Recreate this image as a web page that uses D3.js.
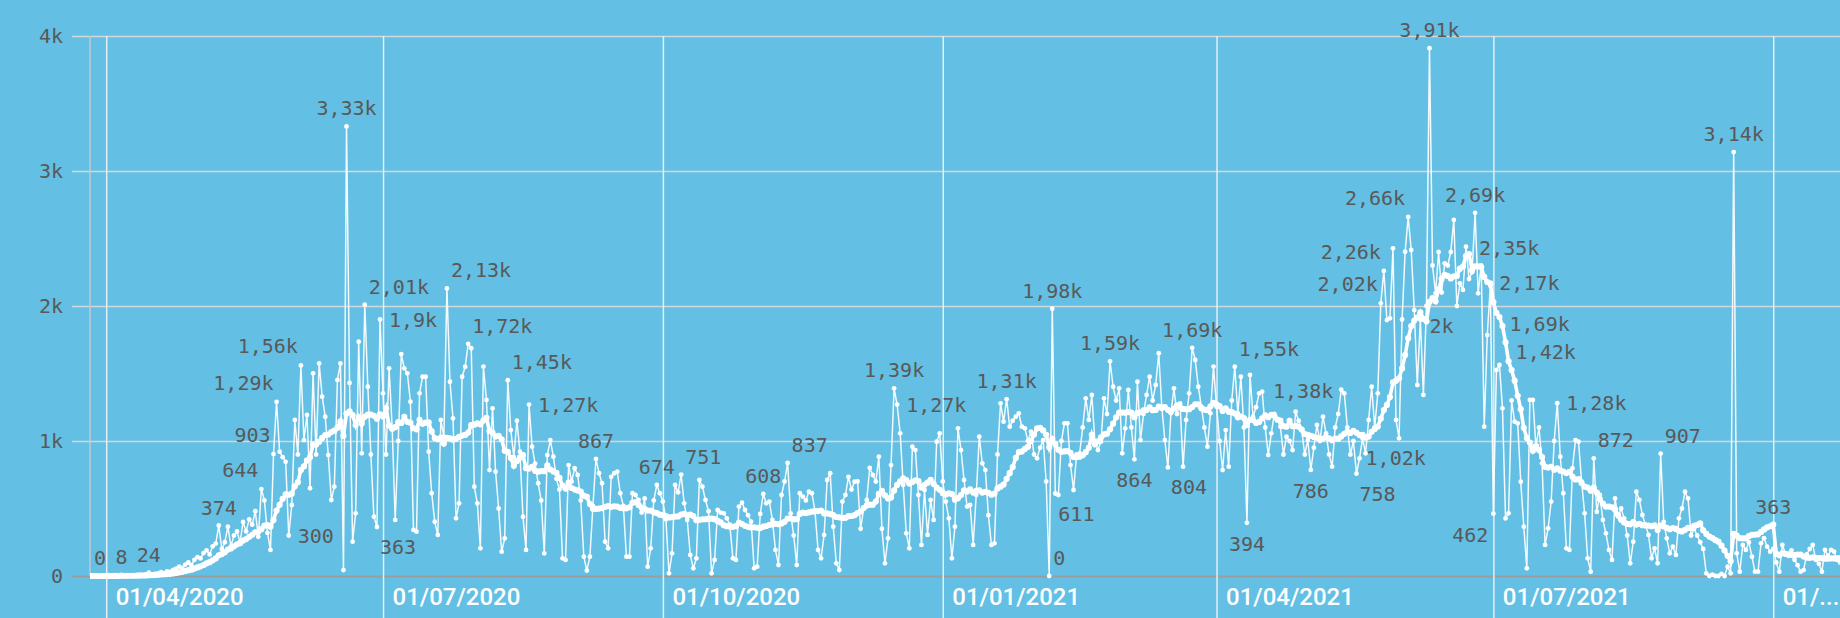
<!DOCTYPE html>
<html lang="es">
<head>
<meta charset="UTF-8">
<title>Casos diarios</title>
<style>
  html, body { margin: 0; padding: 0; background: #63bfe3; }
  svg { display: block; }
  .val { font-family: "DejaVu Sans Mono", monospace; font-size: 20px; fill: #595959; }
</style>
</head>
<body>
<div id="chart"></div>
<script src="https://cdn.jsdelivr.net/npm/d3@7/dist/d3.min.js"></script>
<script>
// first day of the series, values per day after that
const startDate = new Date(2020, 2, 27);
const daily = [
  // mar-apr 2020
  0,0,0,0,0,2,0,1,3,0, 8,2,4,5,3,6,10,8,12,24,
  10,15,20,28,22,35,30,45, 55,70,60,85,100,80,120,140,
  130,170,190,160,220,240,374,
  200,250,365,220,300,330,250,400,330,420,380,480,290,644,
  560,320,193,903,1290,921,880,846,300,
  526,1156,900,1560,1007,1193,650,1501,900,1575,1328,1180,896,563,662,1452,1575,44,3330,
  1430,254,464,1736,909,2010,1402,900,439,363,1900,1353,900,1538,1100,
  415,1000,1644,1538,1501,1291,341,328,1353,1476,1476,921,613,402,304,1156,1032,2130,
  1439,1168,427,538,1476,1550,1720,1687,662,538,205,1551,1304,785,1242,773,500,180,279,1450,
  1081,880,1150,921,439,193,1270,958,833,687,560,167,896,1007,884,720,640,131,119,822,700,798,
  // sep 2020
  748,560,143,40,143,520,867,761,687,254, 205,735,761,773,613,520,143,143,613,600,
  563,470,575,69,205,560,674,613,551,420,
  20,168,674,620,751,538,415,156,57,131, 711,661,563,480,20,119,489,470,464,427,
  380,131,119,514,543,489,450,402,57,69,
  460,608,538,551,415,193,81,600,700,837, 464,300,81,613,588,560,625,613,480,193,
  131,304,711,761,365,94,44,551,600,735,
  640,698,700,350,500,563,800,748,700,884, 350,94,279,822,1390,1270,1057,674,316,205,
  958,933,600,230,637,304,563,415,995,1057,
  // jan 2021
  700,551,427,131,365,1094,933,711,514,526, 230,600,1032,835,785,450,230,242,900,1279,
  1143,1310,1106,1150,1180,1205,1106,1094,1000,1069,
  900,872,950,1007,700,0,1980,611,600,1000, 1131,1131,822,637,900,909,1100,1316,1156,1341,
  1000,933,995,1316,1200,1590,1402,1300,1390,909,
  1094,1378,1100,864,1439,1007,1200,1341,1476,1300, 1415,1650,1254,1007,804,1205,1390,1200,1279,810,
  1156,1353,1690,1600,1402,1254,1100,958,1205,1551,
  1254,1000,785,1081,810,1300,1550,1205,1476,1100, 394,1489,1180,1250,1353,1365,1100,896,1057,1200,
  1156,1106,900,1032,1000,933,1217,1150,1081,900,
  // may 2021
  1007,786,950,1119,1000,1180,1057,900,810,1100, 1200,1380,1353,1100,900,1000,758,872,1020,909,
  1156,1402,1100,1353,2020,2260,1896,1909,2427,1156,
  1020,1900,2402,2660,2415,1970,1415,1900,1341,2000, 3910,2300,2094,2400,2100,2316,2300,2400,2637,2000,
  2168,2119,2439,2200,2250,2690,2094,2300,1106,1785,
  2150,462,1526,1563,1242,427,464,1300,1143,1131, 699,365,57,1304,1304,958,1100,835,230,353,
  551,1000,1280,884,613,205,193,798,1007,995,
  700,464,131,32,872,476,600,415,316,193, 119,575,440,500,427,300,94,254,624,563,
  452,380,304,131,205,94,907,400,279,168,
  217,156,427,500,624,575,300,350,300,250, 200,20,0,10,0,0,15,0,69,20,
  3140,168,32,230,193,250,143,32,32,242,
  280,217,180,200,100,32,230,168,150,190, 120,80,32,44,160,200,230,120,90,32,
  193,150,193,180,120,100,200
];
const yTicks = [0, 1000, 2000, 3000, 4000];

// which daily points carry a value label, and on which side of the point
const labelIdx  = [3,10,19,42,56,60,61,65,69,84,90,94,95,117,124,137,144,166,186,194,221,229,264,265,
                   301,315,316,317,335,343,354,362,376,380,401,411,416,418,424,425,433,439,440,455,461,
                   482,494,516,540];
const labelSide = ['n','n','n','n','nw','nw','nw','e','nw','n','ne','se','e','ne','ne','ne','e','n','n','ne','n','ne','n','e',
                   'n','ne','n','se','n','s','se','n','ne','s','s','w','se','se','nw','nw','nw','se','n','n','sw',
                   'e','ne','ne','n'];
// labels on the 14 day average
const avgLabelIdx  = [455, 460, 465, 467, 553];
const avgLabelText = ['2,35k', '2,17k', '1,69k', '1,42k', '363'];
const avgLabelSide = ['ne', 'e', 'ne', 'ne', 'n'];

const W = 1840, H = 618;
const padLeft = 90, padTop = 36, axisY = 576;

const fmt = d3.formatLocale({decimal: ',', thousands: '.', grouping: [3], currency: ['', '']}).format('.3~s');

const dates = daily.map((d, i) => d3.timeDay.offset(startDate, i));
const avg = daily.map((d, i) => d3.mean(daily.slice(Math.max(0, i - 13), i + 1)));

const x = d3.scaleTime()
  .domain([dates[0], dates[dates.length - 1]])
  .range([padLeft + 1, padLeft + 1 + (daily.length - 1) * 3.042]);
const y = d3.scaleLinear().domain([0, 4000]).range([axisY, padTop]);

const svg = d3.select('#chart').append('svg')
  .attr('width', W)
  .attr('height', H);

svg.append('defs').append('clipPath').attr('id', 'plotclip')
  .append('rect').attr('x', padLeft).attr('y', 0).attr('width', W - padLeft).attr('height', H);

// y grid + labels
svg.append('g')
  .attr('transform', 'translate(72,0)')
  .call(d3.axisLeft(y).tickValues(yTicks).tickFormat(fmt).tickSize(-(W - 72)).tickPadding(9))
  .call(g => g.select('.domain').remove())
  .call(g => g.selectAll('.tick line')
    .attr('stroke', d => d === 0 ? '#9d9d9d' : '#d3d8db')
    .attr('stroke-width', d => d === 0 ? 2 : 1.5))
  .call(g => g.selectAll('.tick text')
    .attr('fill', '#595959')
    .attr('font-family', '"DejaVu Sans Mono", monospace')
    .attr('font-size', 20));

// x grid + date labels
const xg = svg.append('g')
  .attr('transform', 'translate(0,' + H + ')')
  .call(d3.axisBottom(x).ticks(d3.timeMonth.every(3)).tickFormat(d3.timeFormat('%d/%m/%Y')).tickSize(-(H - padTop)))
  .call(g => g.select('.domain').remove())
  .call(g => g.selectAll('.tick line').attr('stroke', '#e6eef1').attr('stroke-width', 1.5));
xg.selectAll('.tick text')
  .attr('x', 9).attr('y', -13).attr('dy', null)
  .attr('text-anchor', 'start')
  .attr('fill', '#fff')
  .attr('font-family', 'Roboto, sans-serif')
  .attr('font-weight', 500)
  .attr('font-size', 24)
  .each(function(d) {
    // shorten labels that run out of the picture
    var t = d3.select(this), s = t.text();
    var room = W - x(d) - 9;
    while (this.getComputedTextLength() > room && s.length > 1) {
      s = s.slice(0, -1);
      t.text(s + '...');
    }
  });

// y axis line
svg.append('line')
  .attr('x1', padLeft).attr('x2', padLeft)
  .attr('y1', padTop).attr('y2', axisY)
  .attr('stroke', '#c3c9cc').attr('stroke-width', 1.5);

const plot = svg.append('g').attr('clip-path', 'url(#plotclip)');

const line = d3.line().x((d, i) => x(dates[i])).y(d => y(d));

plot.append('path').datum(daily)
  .attr('d', line)
  .attr('fill', 'none')
  .attr('stroke', '#fff')
  .attr('stroke-opacity', 0.92)
  .attr('stroke-width', 1.5);
plot.selectAll('circle.day').data(daily).join('circle')
  .attr('class', 'day')
  .attr('cx', (d, i) => x(dates[i]))
  .attr('cy', d => y(d))
  .attr('r', 2.4)
  .attr('fill', '#fff');

plot.append('path').datum(avg)
  .attr('d', line)
  .attr('fill', 'none')
  .attr('stroke', '#fff')
  .attr('stroke-width', 3.6);
plot.selectAll('circle.avg').data(avg).join('circle')
  .attr('class', 'avg')
  .attr('cx', (d, i) => x(dates[i]))
  .attr('cy', d => y(d))
  .attr('r', 3.1)
  .attr('fill', '#fff');

// label placement: dx, baseline dy, anchor
const sides = {
  n: [0, -11, 'middle'], s: [0, 28, 'middle'],
  e: [9, 7, 'start'], w: [-8, 8, 'end'],
  ne: [4, -11, 'start'], nw: [-3, -12, 'end'],
  se: [3, 27, 'start'], sw: [-5, 28, 'end']
};

function addLabel(i, v, text, side) {
  var p = sides[side];
  svg.append('text')
    .attr('class', 'val')
    .attr('x', x(dates[i]) + p[0])
    .attr('y', y(v) + p[1])
    .attr('text-anchor', p[2])
    .text(text);
}
labelIdx.forEach((i, k) => addLabel(i, daily[i], fmt(daily[i]), labelSide[k]));
avgLabelIdx.forEach((i, k) => addLabel(i, avg[i], avgLabelText[k], avgLabelSide[k]));
</script>
</body>
</html>
